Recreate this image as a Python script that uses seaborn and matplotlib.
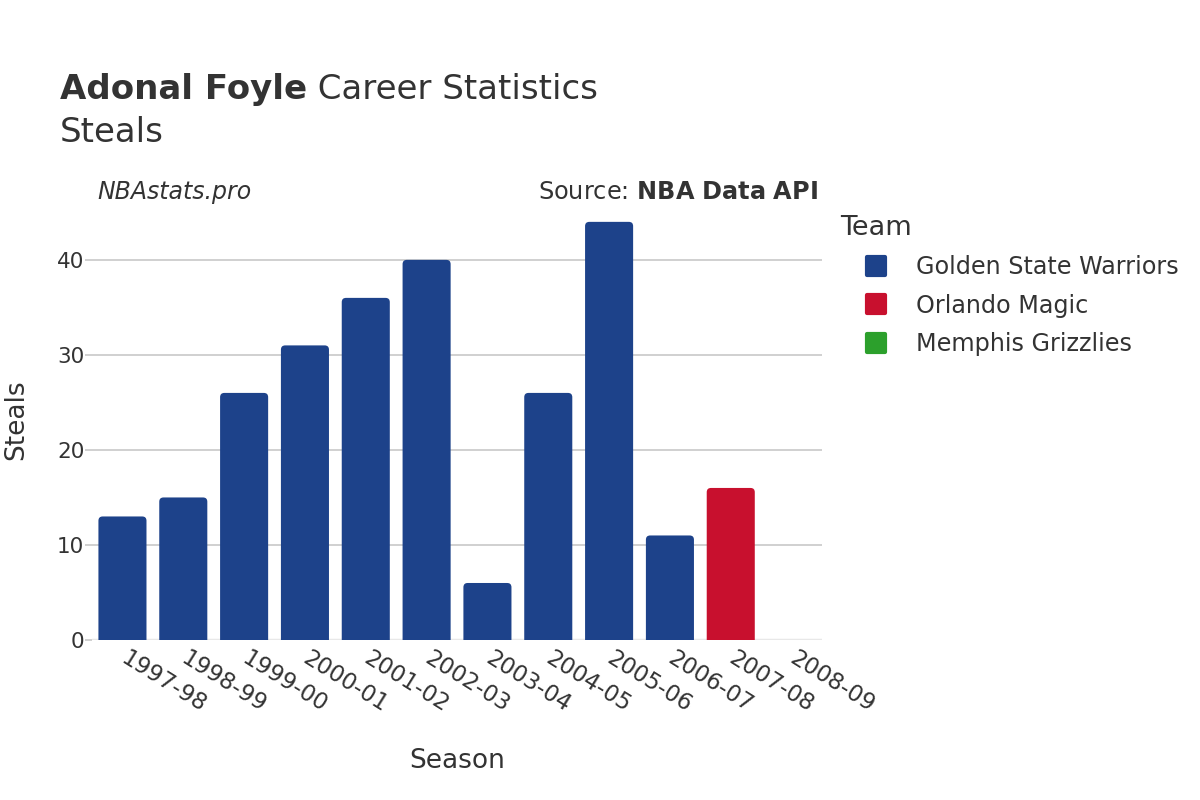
import matplotlib
matplotlib.use("Agg")
import matplotlib.pyplot as plt
from matplotlib.patches import FancyBboxPatch
from matplotlib.lines import Line2D
from matplotlib.markers import MarkerStyle
import seaborn as sns
import pandas as pd

# data
seasons = ['1997-98', '1998-99', '1999-00', '2000-01', '2001-02', '2002-03',
           '2003-04', '2004-05', '2005-06', '2006-07', '2007-08', '2008-09']
steals = [13, 15, 26, 31, 36, 40, 6, 26, 44, 11, 16, 0]
teams = ['Golden State Warriors'] * 10 + ['Orlando Magic', 'Memphis Grizzlies']
team_order = ['Golden State Warriors', 'Orlando Magic', 'Memphis Grizzlies']
team_colors = ['#1d428a', '#c8102e', '#2ca02c']

df = pd.DataFrame({'season': seasons, 'steals': steals, 'team': teams})

sns.set_theme(style='white')
plt.rcParams['font.family'] = ['DejaVu Sans']
txt = '#333333'

fig = plt.figure(figsize=(12, 8), dpi=100)
ax = fig.add_axes([0.0767, 0.2, 0.6083, 0.55])

sns.barplot(data=df, x='season', y='steals', hue='team', hue_order=team_order,
            palette=team_colors, dodge=False, width=0.79, order=seasons,
            legend=False, ax=ax, saturation=1)

ax.set_xlim(-0.5, len(seasons) - 0.5)
ax.set_ylim(0, 46.3)

# swap plain bars for rounded ones
aspect = (46.3 / 440) / (len(seasons) / 730)
for p in list(ax.patches):
    x, y = p.get_x(), p.get_y()
    w, h = p.get_width(), p.get_height()
    if h <= 0:
        p.remove()
        continue
    fb = FancyBboxPatch((x, y - 1), w, h + 1,
                        boxstyle='round,pad=0,rounding_size=0.07',
                        mutation_aspect=aspect, facecolor=p.get_facecolor(),
                        edgecolor='none', zorder=3)
    ax.add_patch(fb)
    p.remove()

ax.set_yticks([0, 10, 20, 30, 40])
ax.yaxis.grid(True, color='#c8c8c8', linewidth=1.2, zorder=0)
ax.axhline(0, color='#e8e8e8', linewidth=2.5, zorder=1)
for s in ax.spines.values():
    s.set_visible(False)
ax.tick_params(axis='y', labelsize=15.5, labelcolor=txt, length=5, width=1.2,
               color='#c8c8c8', pad=0.5, left=True)
ax.tick_params(axis='x', labelsize=16.5, labelcolor=txt, length=0, pad=12)
plt.setp(ax.get_xticklabels(), rotation=-32, ha='left', va='center',
         rotation_mode='anchor')
ax.set_xlabel('Season', fontsize=19, color=txt, labelpad=22)
ax.set_ylabel('Steals', fontsize=19, color=txt, labelpad=20)

# title
t1 = fig.text(0.05, 0.876, 'Adonal Foyle', fontsize=24.5, fontweight='bold',
              color=txt, va='baseline')
fig.canvas.draw()
bb = t1.get_window_extent()
fig.text(bb.x1 / 1200, 0.876, ' Career Statistics', fontsize=24.5, color=txt,
         va='baseline')
fig.text(0.05, 0.822, 'Steals', fontsize=24.5, color=txt, va='baseline')

fig.text(0.081, 0.76, 'NBAstats.pro', fontsize=17, style='italic', color=txt,
         va='center')
fig.text(0.682, 0.76, r'Source: $\bf{NBA\ Data\ API}$', fontsize=17.3,
         color=txt, va='center', ha='right')

rounded_sq = MarkerStyle('s', joinstyle='round')
handles = [Line2D([], [], linestyle='none', marker=rounded_sq, markersize=13,
                  markerfacecolor=c, markeredgecolor=c, markeredgewidth=3)
           for c in team_colors]
leg = fig.legend(handles, team_order, title='Team', loc='upper left',
                 bbox_to_anchor=(0.692, 0.743), frameon=False, fontsize=17.2,
                 title_fontsize=19.5, handlelength=3.05, handletextpad=0.15,
                 labelspacing=0.6, labelcolor=txt, borderaxespad=0)
leg.get_title().set_color(txt)
leg._legend_box.align = 'left'

fig.savefig('out.png', dpi=100)
